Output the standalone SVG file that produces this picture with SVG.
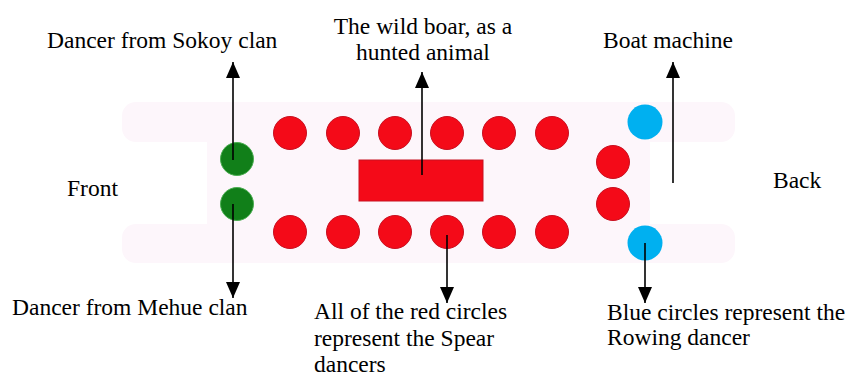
<svg xmlns="http://www.w3.org/2000/svg" width="852" height="378" viewBox="0 0 852 378">
<style>
  text { font-family: "Liberation Serif", "Times New Roman", serif; font-size: 23.5px; fill: #000; }
  .bg { fill: #fdf6fb; }
  .red { fill: #f40a18; stroke: #c81020; stroke-width: 1; }
  .green { fill: #117f19; stroke: #4cae52; stroke-width: 1; }
  .blue { fill: #00b0f0; }
  .conn { stroke: #000; stroke-width: 1.6; fill: none; marker-end: url(#arrow); }
</style>
<defs>
  <marker id="arrow" viewBox="0 0 16 14" refX="16" refY="7" markerWidth="16" markerHeight="14" markerUnits="userSpaceOnUse" orient="auto">
    <path d="M0,0 L16,7 L0,14 z" fill="#000"/>
  </marker>
</defs>
<rect width="852" height="378" fill="#fff"/>
<g id="boat">
  <rect class="bg" x="122" y="102" width="613" height="40" rx="14"/>
  <rect class="bg" x="122" y="224" width="613" height="39" rx="14"/>
  <rect class="bg" x="207" y="102" width="443" height="161"/>
</g>
<g id="boar"><rect class="red" x="359" y="160" width="124" height="41"/></g>
<g id="spear-top-1"><circle class="red" cx="290" cy="133" r="16.5"/></g>
<g id="spear-top-2"><circle class="red" cx="343" cy="133" r="16.5"/></g>
<g id="spear-top-3"><circle class="red" cx="395" cy="133" r="16.5"/></g>
<g id="spear-top-4"><circle class="red" cx="447" cy="133" r="16.5"/></g>
<g id="spear-top-5"><circle class="red" cx="499" cy="133" r="16.5"/></g>
<g id="spear-top-6"><circle class="red" cx="552" cy="133" r="16.5"/></g>
<g id="spear-bot-1"><circle class="red" cx="290" cy="232" r="16.5"/></g>
<g id="spear-bot-2"><circle class="red" cx="343" cy="232" r="16.5"/></g>
<g id="spear-bot-3"><circle class="red" cx="395" cy="232" r="16.5"/></g>
<g id="spear-bot-4"><circle class="red" cx="447" cy="232" r="16.5"/></g>
<g id="spear-bot-5"><circle class="red" cx="499" cy="232" r="16.5"/></g>
<g id="spear-bot-6"><circle class="red" cx="552" cy="232" r="16.5"/></g>
<g id="spear-back-1"><circle class="red" cx="613" cy="162" r="16.5"/></g>
<g id="spear-back-2"><circle class="red" cx="613" cy="204" r="16.5"/></g>
<g id="sokoy"><circle class="green" cx="237" cy="159" r="16.5"/></g>
<g id="mehue"><circle class="green" cx="237" cy="204" r="16.5"/></g>
<g id="rower-top"><circle class="blue" cx="645" cy="122" r="17.5"/></g>
<g id="rower-bot"><circle class="blue" cx="645" cy="243" r="17.5"/></g>
<g id="connectors">
  <line class="conn" x1="233" y1="160" x2="233" y2="62"/>
  <line class="conn" x1="233" y1="204" x2="233" y2="298"/>
  <line class="conn" x1="422" y1="175" x2="422" y2="72"/>
  <line class="conn" x1="673" y1="183" x2="673" y2="62"/>
  <line class="conn" x1="447" y1="235" x2="447" y2="303"/>
  <line class="conn" x1="645" y1="243" x2="645" y2="303"/>
</g>
<g id="labels">
  <text x="47" y="48">Dancer from Sokoy clan</text>
  <text x="423" y="34" text-anchor="middle">The wild boar, as a</text>
  <text x="423" y="60" text-anchor="middle">hunted animal</text>
  <text x="603" y="48">Boat machine</text>
  <text x="67" y="196">Front</text>
  <text x="773" y="188">Back</text>
  <text x="12" y="315">Dancer from Mehue clan</text>
  <text x="314" y="319">All of the red circles</text>
  <text x="314" y="346">represent the Spear</text>
  <text x="314" y="372">dancers</text>
  <text x="607" y="320">Blue circles represent the</text>
  <text x="607" y="345">Rowing dancer</text>
</g>
</svg>
